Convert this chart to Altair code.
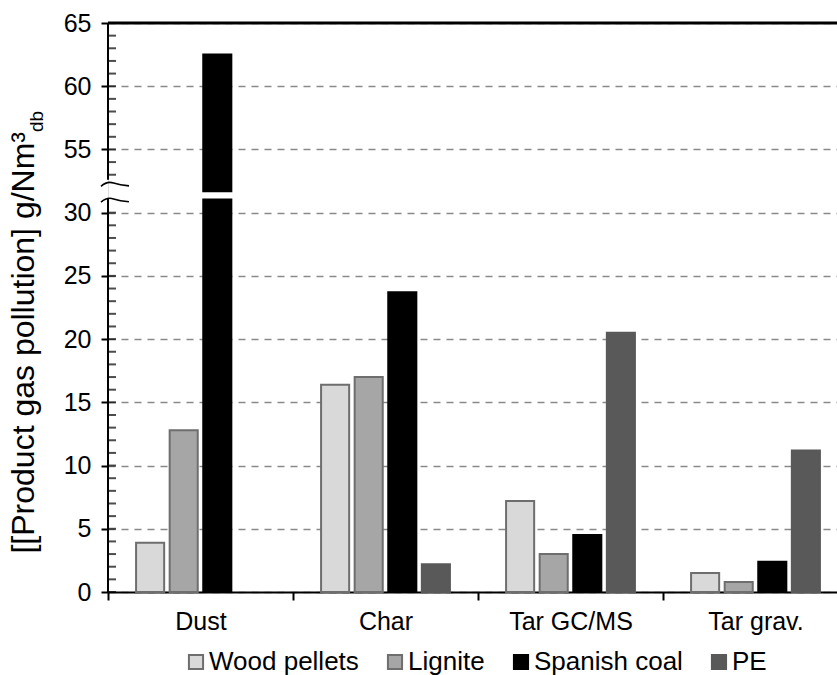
import altair as alt
import pandas as pd

# ---- data ----
categories = ["Dust", "Char", "Tar GC/MS", "Tar grav."]
series = ["Wood pellets", "Lignite", "Spanish coal", "PE"]
wood_pellets = [3.9, 16.4, 7.2, 1.5]
lignite = [12.8, 17.0, 3.0, 0.8]
spanish_coal = [62.5, 23.7, 4.5, 2.4]
pe = [None, 2.2, 20.5, 11.2]

lower_labels = [0, 5, 10, 15, 20, 25, 30]
upper_labels = [55, 60, 65]
lower_minor = list(range(0, 31))
upper_minor = list(range(53, 66))

fills = ["#d9d9d9", "#a6a6a6", "#000000", "#595959"]
strokes = ["#6e6e6e", "#6e6e6e", "#000000", "#595959"]

# axis break settings (values above the break are drawn shifted down by OFFSET)
OFFSET = 20
LOW_END = 31.05      # lower segment ends here
HIGH_START = 51.7    # upper segment starts here
AXIS_LOW_END = 31.1
AXIS_HIGH_START = 52.6
TOP = 65

PLOT_W = 729
RANGE_W = 740
PLOT_H = 569

BRACE_PATH = "M -1 0.15 Q -0.55 -0.25 -0.1 -0.08 Q 0.35 0.08 1 0.12"


def shift(v):
    return v if v <= LOW_END else v - OFFSET


rows = []
for name, vals in zip(series, [wood_pellets, lignite, spanish_coal, pe]):
    for cat, v in zip(categories, vals):
        if v is None:
            continue
        if v <= LOW_END:
            rows.append({"cat": cat, "series": name, "y0": 0, "y1": v})
        else:
            rows.append({"cat": cat, "series": name, "y0": 0, "y1": LOW_END})
            rows.append({"cat": cat, "series": name,
                         "y0": HIGH_START - OFFSET, "y1": v - OFFSET})
bars_df = pd.DataFrame(rows)

ydom = [0, TOP - OFFSET]
yscale = alt.Scale(domain=ydom, nice=False, zero=True)
tick_vals = lower_labels + [shift(v) for v in upper_labels]

legend = alt.Legend(
    title=None, orient="none", legendX=75, legendY=626, direction="horizontal",
    symbolType="square", symbolSize=200, symbolStrokeWidth=2,
    labelFontSize=26, labelColor="black", labelFont="Liberation Sans",
    columnPadding=23, labelOffset=0,
)

bars = alt.Chart(bars_df).mark_bar(strokeWidth=2).encode(
    x=alt.X("cat:N", sort=categories,
            scale=alt.Scale(domain=categories, range=[0, RANGE_W],
                            paddingInner=0, paddingOuter=0),
            axis=alt.Axis(title=None, tickBand="extent", tickSize=8, tickWidth=2,
                          tickColor="black", domainColor="black", domainWidth=2,
                          labelFontSize=25, labelColor="black", labelPadding=9,
                          labelAngle=0, labelFont="Liberation Sans", grid=False)),
    xOffset=alt.XOffset("series:N",
                        scale=alt.Scale(domain=series, paddingInner=0.164,
                                        paddingOuter=0.836)),
    y=alt.Y("y1:Q", scale=yscale,
            axis=alt.Axis(title=None, values=tick_vals,
                          labelExpr="datum.value > 31 ? datum.value + %d : datum.value" % OFFSET,
                          domain=False, tickSize=7, tickWidth=2, tickColor="black",
                          labelFontSize=25, labelColor="black", labelPadding=10,
                          labelFont="Liberation Sans",
                          grid=True, gridColor="#8a8a8a", gridDash=[7, 6],
                          gridWidth=1.5)),
    y2="y0:Q",
    color=alt.Color("series:N", scale=alt.Scale(domain=series, range=fills),
                    legend=legend),
    stroke=alt.Stroke("series:N", scale=alt.Scale(domain=series, range=strokes),
                      legend=legend),
)

axis_df = pd.DataFrame({"a": [0, AXIS_HIGH_START - OFFSET],
                        "b": [AXIS_LOW_END, TOP - OFFSET]})
axis_line = alt.Chart(axis_df).mark_rule(strokeWidth=2, color="black").encode(
    x=alt.value(0),
    y=alt.Y("a:Q", scale=yscale, axis=None),
    y2="b:Q",
)

minor_df = pd.DataFrame({"v": lower_minor + [shift(v) for v in upper_minor]})
minor = alt.Chart(minor_df).mark_tick(orient="horizontal", size=8, thickness=2,
                                      color="black").encode(
    x=alt.value(4),
    y=alt.Y("v:Q", scale=yscale, axis=None),
)

top_df = pd.DataFrame({"v": [TOP - OFFSET]})
top_rule = alt.Chart(top_df).mark_rule(strokeWidth=3, color="black").encode(
    y=alt.Y("v:Q", scale=yscale, axis=None),
    x=alt.value(0), x2=alt.value(RANGE_W),
)

brace_df = pd.DataFrame({"v": [AXIS_HIGH_START - OFFSET - 0.35, AXIS_LOW_END - 0.1]})
braces = alt.Chart(brace_df).mark_point(shape=BRACE_PATH, filled=False, size=784,
                                        strokeWidth=1.6, color="black",
                                        opacity=1).encode(
    x=alt.value(7),
    y=alt.Y("v:Q", scale=yscale, axis=None),
)

title_main = alt.Chart(pd.DataFrame({"t": ["[[Product gas pollution] g/Nm³"]})).mark_text(
    angle=270, align="right", baseline="alphabetic", fontSize=32,
    font="Liberation Sans", color="black").encode(
    x=alt.value(-74), y=alt.value(109), text="t:N")
title_sub = alt.Chart(pd.DataFrame({"t": ["db"]})).mark_text(
    angle=270, align="left", baseline="alphabetic", fontSize=19,
    font="Liberation Sans", color="black").encode(
    x=alt.value(-65), y=alt.value(109), text="t:N")

chart = alt.layer(bars, axis_line, minor, top_rule, braces, title_main, title_sub).resolve_axis(
    y="independent"
).properties(
    width=PLOT_W, height=PLOT_H,
    autosize=alt.AutoSizeParams(type="none"),
    padding={"left": 108, "top": 23, "right": 0, "bottom": 83},
).configure_view(stroke=None).configure(font="Liberation Sans", background="white")

chart.save("out.html", embed_options={"renderer": "svg", "actions": False})
